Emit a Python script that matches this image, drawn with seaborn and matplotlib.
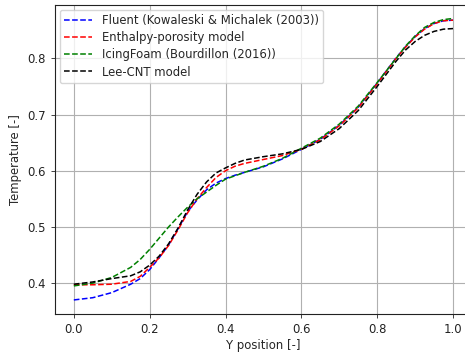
import matplotlib
matplotlib.use("Agg")
import matplotlib.pyplot as plt
import seaborn as sns
import pandas as pd

# Non-dimensional position along the vertical line
y_pos = [0.000, 0.050, 0.100, 0.150, 0.175, 0.200, 0.225, 0.250, 0.275, 0.300,
         0.325, 0.350, 0.375, 0.400, 0.425, 0.450, 0.500, 0.550, 0.600, 0.650,
         0.700, 0.750, 0.800, 0.850, 0.875, 0.900, 0.925, 0.950, 0.975, 1.000]

# Non-dimensional temperature profiles
fluent = [0.370, 0.374, 0.383, 0.398, 0.408, 0.424, 0.445, 0.468, 0.497, 0.527,
          0.548, 0.566, 0.578, 0.586, 0.592, 0.597, 0.607, 0.621, 0.638, 0.656,
          0.681, 0.713, 0.756, 0.801, 0.821, 0.839, 0.853, 0.862, 0.867, 0.868]
enthalpy = [0.397, 0.397, 0.398, 0.403, 0.412, 0.428, 0.445, 0.467, 0.495, 0.525,
            0.550, 0.570, 0.588, 0.600, 0.608, 0.613, 0.620, 0.627, 0.638, 0.655,
            0.680, 0.712, 0.755, 0.800, 0.820, 0.838, 0.852, 0.862, 0.867, 0.868]
icingfoam = [0.395, 0.400, 0.410, 0.428, 0.442, 0.460, 0.480, 0.500, 0.518, 0.535,
             0.550, 0.562, 0.574, 0.585, 0.591, 0.597, 0.608, 0.622, 0.640, 0.658,
             0.683, 0.715, 0.757, 0.800, 0.822, 0.840, 0.855, 0.864, 0.869, 0.871]
lee_cnt = [0.398, 0.402, 0.408, 0.413, 0.420, 0.432, 0.448, 0.470, 0.498, 0.530,
           0.558, 0.580, 0.596, 0.605, 0.613, 0.619, 0.625, 0.630, 0.638, 0.652,
           0.675, 0.707, 0.750, 0.795, 0.815, 0.830, 0.841, 0.848, 0.852, 0.853]

labels = ["Fluent (Kowaleski & Michalek (2003))", "Enthalpy-porosity model",
          "IcingFoam (Bourdillon (2016))", "Lee-CNT model"]
colors = ["blue", "red", "green", "black"]
series = [fluent, enthalpy, icingfoam, lee_cnt]

sns.set_style("ticks")
plt.rcParams["font.family"] = ["DejaVu Sans"]
fs = 8.4

fig = plt.figure(figsize=(4.65, 3.56), dpi=100)
ax = fig.add_axes([0.118, 0.118, 0.897, 0.868])

for lab, col, vals in zip(labels, colors, series):
    df = pd.DataFrame({"y": y_pos, "T": vals})
    sns.lineplot(data=df, x="y", y="T", ax=ax, color=col, linestyle="--",
                 linewidth=1.1, label=lab)

ax.set_xlim(-0.05, 1.05)
ax.set_ylim(0.345, 0.895)
ax.set_xticks([0.0, 0.2, 0.4, 0.6, 0.8, 1.0])
ax.set_yticks([0.4, 0.5, 0.6, 0.7, 0.8])
ax.grid(True, color="#b0b0b0", linewidth=0.8)
ax.set_xlabel("Y position [-]", fontsize=fs, labelpad=2)
ax.set_ylabel("Temperature [-]", fontsize=fs, labelpad=4)
ax.tick_params(labelsize=fs, length=3, width=0.6, colors="#222222")
for s in ax.spines.values():
    s.set_linewidth(0.8)
    s.set_color("#222222")

leg = ax.legend(loc="upper left", fontsize=fs, frameon=True, framealpha=0.8,
                handlelength=2.4, borderaxespad=0.4, labelspacing=0.35)
leg.get_frame().set_edgecolor("#cccccc")

fig.savefig("out.png", dpi=100)
